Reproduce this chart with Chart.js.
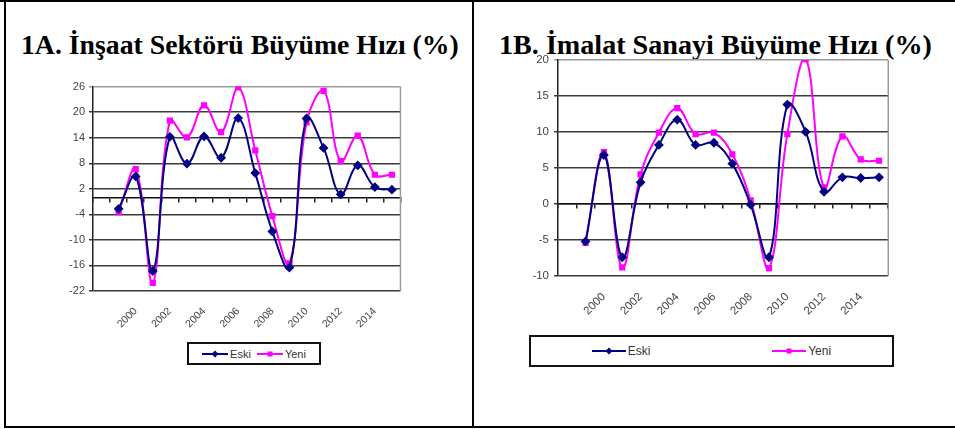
<!DOCTYPE html>
<html>
<head>
<meta charset="utf-8">
<title>İnşaat ve İmalat Büyüme Hızı</title>
<script src="https://cdn.jsdelivr.net/npm/chart.js@4.4.0/dist/chart.umd.min.js"></script>
<style>
    body { margin: 0; background: #fff; }
    #page { position: relative; width: 955px; height: 429px; overflow: hidden; font-family: "Liberation Sans", Arial, sans-serif; }
    .rule { position: absolute; background: #000; }
    .title { position: absolute; font-family: "Liberation Serif", serif; font-weight: bold; font-size: 28px; line-height: 30px; white-space: nowrap; transform-origin: 0 0; color: #000; }
    canvas { position: absolute; }
    .legend { position: absolute; box-sizing: border-box; border: 2px solid #111; display: flex; align-items: center; color: #333; }
    .legend-item { display: flex; align-items: center; }
    .swatch { position: relative; height: 2px; margin-right: 2px; }
    .swatch i { position: absolute; left: 50%; top: 50%; }
    .diamond { width: 5px; height: 5px; transform: translate(-50%, -50%) rotate(45deg); }
    .square { width: 5px; height: 5px; transform: translate(-50%, -50%); }
</style>
</head>
<body>
<div id="page">
    <!-- table borders -->
    <div class="rule" style="left:0; top:0; width:955px; height:2px;"></div>
    <div class="rule" style="left:4px; top:0; width:2px; height:428px;"></div>
    <div class="rule" style="left:472px; top:0; width:2px; height:428px;"></div>
    <div class="rule" style="left:4px; top:426px; width:951px; height:2px;"></div>

    <div class="title" id="title-a" style="left:21px; top:30px;">1A. İnşaat Sektörü Büyüme Hızı (%)</div>
    <div class="title" id="title-b" style="left:499px; top:30px;">1B. İmalat Sanayi Büyüme Hızı (%)</div>

    <canvas id="chart-insaat" width="375" height="264" style="left:40px; top:76px;"></canvas>
    <canvas id="chart-imalat" width="403" height="280" style="left:500px; top:48px;"></canvas>

    <div class="legend" id="legend-insaat" style="left:187px; top:342px; width:134px; height:23px; justify-content:center; font-size:11px;"></div>
    <div class="legend" id="legend-imalat" style="left:529px; top:335px; width:365px; height:32px; justify-content:space-around; font-size:12px;"></div>
</div>

<script>
// Categories (1998 is an empty slot, as in the original sheet)
const years = ['1998', '1999', '2000', '2001', '2002', '2003', '2004', '2005', '2006',
               '2007', '2008', '2009', '2010', '2011', '2012', '2013', '2014', '2015'];
const tickYears = ['2000', '2002', '2004', '2006', '2008', '2010', '2012', '2014'];

// 1A - construction sector growth (%)
const insaatEski = [null, -2.7, 4.9, -17.3, 14.2, 7.9, 14.3, 9.3, 18.6, 5.7, -8.0, -16.5, 18.5, 11.6, 0.7, 7.5, 2.4, 1.8];
const insaatYeni = [null, -3.5, 6.6, -20.1, 18.0, 14.1, 21.6, 15.3, 25.8, 11.0, -4.4, -15.5, 17.6, 25.0, 8.5, 14.5, 5.3, 5.3];
const insaatYTicks = [-22, -16, -10, -4, 2, 8, 14, 20, 26];

// 1B - manufacturing industry growth (%)
const imalatEski = [null, -5.2, 6.8, -7.4, 3.0, 8.2, 11.7, 8.2, 8.5, 5.6, -0.1, -7.4, 13.8, 10.0, 1.7, 3.7, 3.6, 3.7];
const imalatYeni = [null, -5.4, 7.2, -8.8, 4.1, 9.9, 13.3, 9.7, 9.9, 6.9, 0.5, -8.9, 9.7, 20.1, 2.3, 9.4, 6.2, 6.0];
const imalatYTicks = [-10, -5, 0, 5, 10, 15, 20];

const seriesNames = ['Eski', 'Yeni'];
const seriesColors = ['#000080', '#ff00ff'];
const seriesMarkers = ['rectRot', 'rect'];

/**
 * Gray frame line on the right edge of the plot area (Excel style)
 */
const plotFrame = {
    id: 'plotFrame',
    beforeDatasetsDraw(chart) {
        const { ctx, chartArea: a } = chart;
        ctx.save();
        ctx.strokeStyle = '#9a9a9a';
        ctx.lineWidth = 1.5;
        ctx.beginPath();
        ctx.moveTo(a.right, a.top);
        ctx.lineTo(a.right, a.bottom);
        ctx.stroke();
        ctx.restore();
    }
};

/**
 * Build one growth chart
 * @param {string} id - canvas id
 * @param {Array} eski - old series
 * @param {Array} yeni - new series
 * @param {Array} yTicks - y tick values
 * @param {Object} dims - fixed axis sizes and font sizes
 */
function createGrowthChart(id, eski, yeni, yTicks, dims) {
    const datasets = [eski, yeni].map((values, i) => ({
        label: seriesNames[i],
        data: values,
        borderColor: seriesColors[i],
        backgroundColor: seriesColors[i],
        borderWidth: 2,
        pointStyle: seriesMarkers[i],
        pointRadius: i === 0 ? 3.5 : 3,
        tension: 0.4
    }));

    const topTick = yTicks[yTicks.length - 1];

    return new Chart(document.getElementById(id), {
        type: 'line',
        data: { labels: years, datasets: datasets },
        plugins: [plotFrame],
        options: {
            responsive: false,
            animation: false,
            layout: { padding: { left: 0, right: 5, top: 10, bottom: 0 } },
            plugins: { legend: { display: false }, tooltip: { enabled: false } },
            scales: {
                x: {
                    offset: true,
                    grid: { display: false, tickLength: 0 },
                    border: { display: false },
                    ticks: {
                        autoSkip: false,
                        minRotation: 45,
                        maxRotation: 45,
                        padding: dims.xPad,
                        color: '#444',
                        font: { family: 'Liberation Sans', size: dims.xFont },
                        callback: (v, i) => tickYears.includes(years[i]) ? years[i] : ''
                    },
                    afterFit: (scale) => { scale.height = dims.xHeight; }
                },
                // category axis crossing at zero, tick marks only
                x2: {
                    type: 'category',
                    offset: true,
                    position: { y: 0 },
                    ticks: { display: false },
                    grid: { drawOnChartArea: false, drawTicks: true, tickLength: 4, offset: true, color: '#222', lineWidth: 1.5 },
                    border: { display: true, color: '#111', width: 1.5 }
                },
                y: {
                    min: yTicks[0],
                    max: topTick,
                    ticks: {
                        stepSize: yTicks[1] - yTicks[0],
                        padding: dims.yPad,
                        color: '#444',
                        font: { family: 'Liberation Sans', size: dims.yFont }
                    },
                    grid: {
                        color: (c) => c.tick && c.tick.value === topTick ? '#9a9a9a' : '#3a3a3a',
                        lineWidth: 1.5,
                        tickLength: 4
                    },
                    border: { display: true, color: '#222', width: 1.5 },
                    afterFit: (scale) => { scale.width = dims.yWidth; }
                }
            }
        }
    });
}

/**
 * HTML legend with a line + marker swatch per series
 */
function buildLegend(id, lineWidth) {
    const box = document.getElementById(id);
    seriesNames.forEach((name, i) => {
        const item = document.createElement('div');
        item.className = 'legend-item';
        item.style.margin = '0 3px';
        const sw = document.createElement('span');
        sw.className = 'swatch';
        sw.style.width = lineWidth + 'px';
        sw.style.background = seriesColors[i];
        const mk = document.createElement('i');
        mk.className = i === 0 ? 'diamond' : 'square';
        mk.style.background = seriesColors[i];
        sw.appendChild(mk);
        const txt = document.createElement('span');
        txt.textContent = name;
        item.appendChild(sw);
        item.appendChild(txt);
        box.appendChild(item);
    });
}

/**
 * Squeeze a title horizontally to the width it has in the original
 */
function fitTitle(id, targetWidth) {
    const el = document.getElementById(id);
    el.style.transform = 'scaleX(' + (targetWidth / el.offsetWidth) + ')';
}

createGrowthChart('chart-insaat', insaatEski, insaatYeni, insaatYTicks,
    { yWidth: 53, xHeight: 49, xPad: 14, xFont: 10.5, yFont: 11, yPad: 4 });
createGrowthChart('chart-imalat', imalatEski, imalatYeni, imalatYTicks,
    { yWidth: 58, xHeight: 52, xPad: 14, xFont: 11.5, yFont: 11.5, yPad: 5 });

buildLegend('legend-insaat', 26);
buildLegend('legend-imalat', 34);

fitTitle('title-a', 438);
fitTitle('title-b', 433);
</script>
</body>
</html>
